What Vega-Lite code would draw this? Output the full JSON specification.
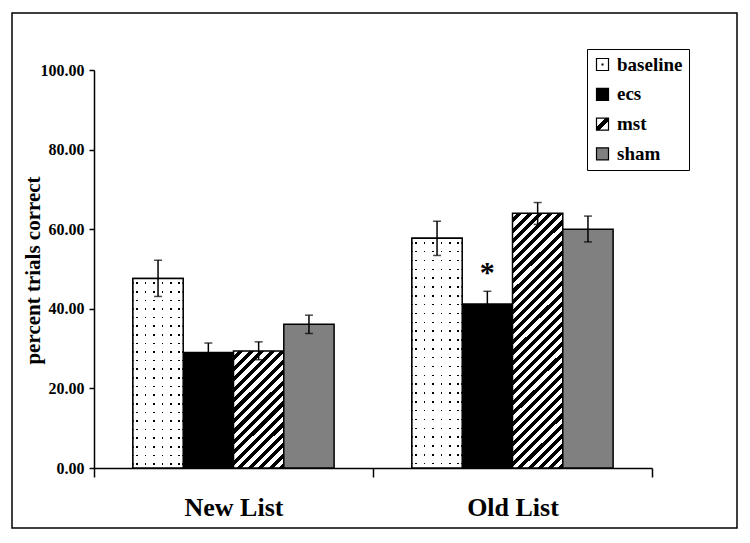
{
  "$schema": "https://vega.github.io/schema/vega-lite/v6.json",
  "width": 725,
  "height": 515,
  "autosize": {"type": "none"},
  "padding": {"left": 12, "top": 13, "right": 13, "bottom": 15},
  "background": "white",
  "config": {
    "view": {"stroke": "#000", "strokeWidth": 1.5},
    "font": "Liberation Serif",
    "axis": {
      "grid": false,
      "domainColor": "#000",
      "tickColor": "#000",
      "labelColor": "#000",
      "titleColor": "#000",
      "labelFont": "Liberation Serif",
      "titleFont": "Liberation Serif",
      "labelFontWeight": "bold",
      "titleFontWeight": "bold",
      "domainWidth": 1.5,
      "tickWidth": 1.5
    }
  },
  "data": {
    "values": [
      {"list": "New List", "cond": "baseline", "mean": 47.6, "lo": 43.1, "hi": 52.2, "sig": ""},
      {"list": "New List", "cond": "ecs", "mean": 29.0, "lo": 26.6, "hi": 31.4, "sig": ""},
      {"list": "New List", "cond": "mst", "mean": 29.4, "lo": 27.2, "hi": 31.7, "sig": ""},
      {"list": "New List", "cond": "sham", "mean": 36.1, "lo": 33.8, "hi": 38.4, "sig": ""},
      {"list": "Old List", "cond": "baseline", "mean": 57.7, "lo": 53.4, "hi": 62.0, "sig": ""},
      {"list": "Old List", "cond": "ecs", "mean": 41.2, "lo": 38.0, "hi": 44.4, "sig": "*"},
      {"list": "Old List", "cond": "mst", "mean": 64.0, "lo": 61.2, "hi": 66.7, "sig": ""},
      {"list": "Old List", "cond": "sham", "mean": 60.0, "lo": 56.8, "hi": 63.3, "sig": ""}
    ]
  },
  "encoding": {
    "x": {
      "field": "list",
      "type": "nominal",
      "scale": {"range": [82, 640], "paddingInner": 0, "paddingOuter": 0},
      "axis": {
        "title": null,
        "orient": "bottom",
        "offset": -60,
        "tickBand": "extent",
        "tickSize": 9,
        "labelFontSize": 26,
        "labelBaseline": "alphabetic",
        "labelPadding": 38,
        "labelAngle": 0
      }
    },
    "xOffset": {
      "field": "cond",
      "type": "nominal",
      "scale": {"domain": ["baseline", "ecs", "mst", "sham"], "paddingInner": 0, "paddingOuter": 0.773}
    }
  },
  "layer": [
    {
      "mark": {"type": "bar", "stroke": "#000", "strokeWidth": 1.5},
      "encoding": {
        "y": {
          "field": "mean",
          "type": "quantitative",
          "scale": {"domain": [0, 100], "range": [455, 57], "nice": false, "zero": true},
          "axis": {
            "title": "percent trials correct",
            "offset": -82,
            "values": [0, 20, 40, 60, 80, 100],
            "format": ".2f",
            "tickSize": 5,
            "labelFontSize": 16,
            "labelPadding": 5,
            "titleFontSize": 21,
            "titleX": -61,
            "titleY": 257,
            "titleAngle": 270,
            "titleAlign": "center",
            "titleBaseline": "middle"
          }
        },
        "fill": {
          "condition": [
            {"test": "datum.cond === 'baseline'", "value": {
              "gradient": "linear", "x1": 0, "y1": 0, "x2": 1, "y2": 0,
              "stops": [{"offset":0,"color":"#fff"},
{"offset":0.07,"color":"#fff"},{"offset":0.07,"color":"#000"},{"offset":0.102,"color":"#000"},{"offset":0.102,"color":"#fff"},
{"offset":0.2367,"color":"#fff"},{"offset":0.2367,"color":"#000"},{"offset":0.2687,"color":"#000"},{"offset":0.2687,"color":"#fff"},
{"offset":0.4033,"color":"#fff"},{"offset":0.4033,"color":"#000"},{"offset":0.4353,"color":"#000"},{"offset":0.4353,"color":"#fff"},
{"offset":0.57,"color":"#fff"},{"offset":0.57,"color":"#000"},{"offset":0.602,"color":"#000"},{"offset":0.602,"color":"#fff"},
{"offset":0.7367,"color":"#fff"},{"offset":0.7367,"color":"#000"},{"offset":0.7687,"color":"#000"},{"offset":0.7687,"color":"#fff"},
{"offset":0.9033,"color":"#fff"},{"offset":0.9033,"color":"#000"},{"offset":0.9353,"color":"#000"},{"offset":0.9353,"color":"#fff"},
{"offset":1,"color":"#fff"}]
            }},
            {"test": "datum.cond === 'mst' && datum.list === 'New List'", "value": {
              "gradient": "linear", "x1": 0, "y1": 0, "x2": 0.516, "y2": 1.207,
              "stops": [{"offset":0,"color":"#fff"},
{"offset":0.03125,"color":"#fff"},{"offset":0.03125,"color":"#000"},
{"offset":0.0625,"color":"#000"},{"offset":0.0625,"color":"#fff"},
{"offset":0.09375,"color":"#fff"},{"offset":0.09375,"color":"#000"},
{"offset":0.125,"color":"#000"},{"offset":0.125,"color":"#fff"},
{"offset":0.15625,"color":"#fff"},{"offset":0.15625,"color":"#000"},
{"offset":0.1875,"color":"#000"},{"offset":0.1875,"color":"#fff"},
{"offset":0.21875,"color":"#fff"},{"offset":0.21875,"color":"#000"},
{"offset":0.25,"color":"#000"},{"offset":0.25,"color":"#fff"},
{"offset":0.28125,"color":"#fff"},{"offset":0.28125,"color":"#000"},
{"offset":0.3125,"color":"#000"},{"offset":0.3125,"color":"#fff"},
{"offset":0.34375,"color":"#fff"},{"offset":0.34375,"color":"#000"},
{"offset":0.375,"color":"#000"},{"offset":0.375,"color":"#fff"},
{"offset":0.40625,"color":"#fff"},{"offset":0.40625,"color":"#000"},
{"offset":0.4375,"color":"#000"},{"offset":0.4375,"color":"#fff"},
{"offset":0.46875,"color":"#fff"},{"offset":0.46875,"color":"#000"},
{"offset":0.5,"color":"#000"},{"offset":0.5,"color":"#fff"},
{"offset":0.53125,"color":"#fff"},{"offset":0.53125,"color":"#000"},
{"offset":0.5625,"color":"#000"},{"offset":0.5625,"color":"#fff"},
{"offset":0.59375,"color":"#fff"},{"offset":0.59375,"color":"#000"},
{"offset":0.625,"color":"#000"},{"offset":0.625,"color":"#fff"},
{"offset":0.65625,"color":"#fff"},{"offset":0.65625,"color":"#000"},
{"offset":0.6875,"color":"#000"},{"offset":0.6875,"color":"#fff"},
{"offset":0.71875,"color":"#fff"},{"offset":0.71875,"color":"#000"},
{"offset":0.75,"color":"#000"},{"offset":0.75,"color":"#fff"},
{"offset":0.78125,"color":"#fff"},{"offset":0.78125,"color":"#000"},
{"offset":0.8125,"color":"#000"},{"offset":0.8125,"color":"#fff"},
{"offset":0.84375,"color":"#fff"},{"offset":0.84375,"color":"#000"},
{"offset":0.875,"color":"#000"},{"offset":0.875,"color":"#fff"},
{"offset":0.90625,"color":"#fff"},{"offset":0.90625,"color":"#000"},
{"offset":0.9375,"color":"#000"},{"offset":0.9375,"color":"#fff"},
{"offset":0.96875,"color":"#fff"},{"offset":0.96875,"color":"#000"},
{"offset":1,"color":"#000"}]
            }},
            {"test": "datum.cond === 'mst' && datum.list === 'Old List'", "value": {
              "gradient": "linear", "x1": 0, "y1": 0, "x2": 0.226, "y2": 1.152,
              "stops": [{"offset":0,"color":"#fff"},
{"offset":0.0167,"color":"#fff"},{"offset":0.0167,"color":"#000"},
{"offset":0.0333,"color":"#000"},{"offset":0.0333,"color":"#fff"},
{"offset":0.05,"color":"#fff"},{"offset":0.05,"color":"#000"},
{"offset":0.0667,"color":"#000"},{"offset":0.0667,"color":"#fff"},
{"offset":0.0833,"color":"#fff"},{"offset":0.0833,"color":"#000"},
{"offset":0.1,"color":"#000"},{"offset":0.1,"color":"#fff"},
{"offset":0.1167,"color":"#fff"},{"offset":0.1167,"color":"#000"},
{"offset":0.1333,"color":"#000"},{"offset":0.1333,"color":"#fff"},
{"offset":0.15,"color":"#fff"},{"offset":0.15,"color":"#000"},
{"offset":0.1667,"color":"#000"},{"offset":0.1667,"color":"#fff"},
{"offset":0.1833,"color":"#fff"},{"offset":0.1833,"color":"#000"},
{"offset":0.2,"color":"#000"},{"offset":0.2,"color":"#fff"},
{"offset":0.2167,"color":"#fff"},{"offset":0.2167,"color":"#000"},
{"offset":0.2333,"color":"#000"},{"offset":0.2333,"color":"#fff"},
{"offset":0.25,"color":"#fff"},{"offset":0.25,"color":"#000"},
{"offset":0.2667,"color":"#000"},{"offset":0.2667,"color":"#fff"},
{"offset":0.2833,"color":"#fff"},{"offset":0.2833,"color":"#000"},
{"offset":0.3,"color":"#000"},{"offset":0.3,"color":"#fff"},
{"offset":0.3167,"color":"#fff"},{"offset":0.3167,"color":"#000"},
{"offset":0.3333,"color":"#000"},{"offset":0.3333,"color":"#fff"},
{"offset":0.35,"color":"#fff"},{"offset":0.35,"color":"#000"},
{"offset":0.3667,"color":"#000"},{"offset":0.3667,"color":"#fff"},
{"offset":0.3833,"color":"#fff"},{"offset":0.3833,"color":"#000"},
{"offset":0.4,"color":"#000"},{"offset":0.4,"color":"#fff"},
{"offset":0.4167,"color":"#fff"},{"offset":0.4167,"color":"#000"},
{"offset":0.4333,"color":"#000"},{"offset":0.4333,"color":"#fff"},
{"offset":0.45,"color":"#fff"},{"offset":0.45,"color":"#000"},
{"offset":0.4667,"color":"#000"},{"offset":0.4667,"color":"#fff"},
{"offset":0.4833,"color":"#fff"},{"offset":0.4833,"color":"#000"},
{"offset":0.5,"color":"#000"},{"offset":0.5,"color":"#fff"},
{"offset":0.5167,"color":"#fff"},{"offset":0.5167,"color":"#000"},
{"offset":0.5333,"color":"#000"},{"offset":0.5333,"color":"#fff"},
{"offset":0.55,"color":"#fff"},{"offset":0.55,"color":"#000"},
{"offset":0.5667,"color":"#000"},{"offset":0.5667,"color":"#fff"},
{"offset":0.5833,"color":"#fff"},{"offset":0.5833,"color":"#000"},
{"offset":0.6,"color":"#000"},{"offset":0.6,"color":"#fff"},
{"offset":0.6167,"color":"#fff"},{"offset":0.6167,"color":"#000"},
{"offset":0.6333,"color":"#000"},{"offset":0.6333,"color":"#fff"},
{"offset":0.65,"color":"#fff"},{"offset":0.65,"color":"#000"},
{"offset":0.6667,"color":"#000"},{"offset":0.6667,"color":"#fff"},
{"offset":0.6833,"color":"#fff"},{"offset":0.6833,"color":"#000"},
{"offset":0.7,"color":"#000"},{"offset":0.7,"color":"#fff"},
{"offset":0.7167,"color":"#fff"},{"offset":0.7167,"color":"#000"},
{"offset":0.7333,"color":"#000"},{"offset":0.7333,"color":"#fff"},
{"offset":0.75,"color":"#fff"},{"offset":0.75,"color":"#000"},
{"offset":0.7667,"color":"#000"},{"offset":0.7667,"color":"#fff"},
{"offset":0.7833,"color":"#fff"},{"offset":0.7833,"color":"#000"},
{"offset":0.8,"color":"#000"},{"offset":0.8,"color":"#fff"},
{"offset":0.8167,"color":"#fff"},{"offset":0.8167,"color":"#000"},
{"offset":0.8333,"color":"#000"},{"offset":0.8333,"color":"#fff"},
{"offset":0.85,"color":"#fff"},{"offset":0.85,"color":"#000"},
{"offset":0.8667,"color":"#000"},{"offset":0.8667,"color":"#fff"},
{"offset":0.8833,"color":"#fff"},{"offset":0.8833,"color":"#000"},
{"offset":0.9,"color":"#000"},{"offset":0.9,"color":"#fff"},
{"offset":0.9167,"color":"#fff"},{"offset":0.9167,"color":"#000"},
{"offset":0.9333,"color":"#000"},{"offset":0.9333,"color":"#fff"},
{"offset":0.95,"color":"#fff"},{"offset":0.95,"color":"#000"},
{"offset":0.9667,"color":"#000"},{"offset":0.9667,"color":"#fff"},
{"offset":0.9833,"color":"#fff"},{"offset":0.9833,"color":"#000"},
{"offset":1,"color":"#000"}]
            }}
          ],
          "field": "cond",
          "type": "nominal",
          "scale": {
            "domain": ["baseline", "ecs", "mst", "sham"],
            "range": [
              {"expr": "{gradient:'radial',x1:0.5,y1:0.5,r1:0,x2:0.5,y2:0.5,r2:0.5,stops:[{offset:0,color:'#000'},{offset:0.13,color:'#000'},{offset:0.13,color:'#fff'},{offset:1,color:'#fff'}]}"},
              "#000000",
              {"expr": "{gradient:'linear',x1:0,y1:0,x2:1,y2:1,stops:[{offset:0,color:'#fff'},{offset:0.38,color:'#fff'},{offset:0.38,color:'#000'},{offset:0.62,color:'#000'},{offset:0.62,color:'#fff'},{offset:1,color:'#fff'}]}"},
              "#808080"
            ]
          },
          "legend": {
            "title": null,
            "orient": "none",
            "legendX": 575,
            "legendY": 36,
            "strokeColor": "#000",
            "fillColor": "#fff",
            "padding": 6,
            "symbolType": "square",
            "symbolSize": 144,
            "symbolStrokeColor": "#000",
            "symbolStrokeWidth": 1.2,
            "symbolOpacity": 1,
            "labelFont": "Liberation Serif",
            "labelFontWeight": "bold",
            "labelFontSize": 19,
            "labelColor": "#000",
            "labelOffset": 5,
            "rowPadding": 9.8
          }
        }
      }
    },
    {
      "transform": [{"filter": "datum.cond === 'baseline'"}],
      "mark": {"type": "bar", "stroke": "#000", "strokeWidth": 1.5},
      "encoding": {
        "y": {"field": "mean", "type": "quantitative"},
        "fill": {
          "condition": {"test": "datum.list === 'New List'", "value": {
            "gradient": "linear", "x1": 0, "y1": 0, "x2": 0, "y2": 1,
            "stops": [{"offset":0,"color":"#fff"},
{"offset":0.02,"color":"#fff"},{"offset":0.02,"color":"rgba(255,255,255,0)"},{"offset":0.0286,"color":"rgba(255,255,255,0)"},{"offset":0.0286,"color":"#fff"},
{"offset":0.0655,"color":"#fff"},{"offset":0.0655,"color":"rgba(255,255,255,0)"},{"offset":0.0741,"color":"rgba(255,255,255,0)"},{"offset":0.0741,"color":"#fff"},
{"offset":0.1109,"color":"#fff"},{"offset":0.1109,"color":"rgba(255,255,255,0)"},{"offset":0.1195,"color":"rgba(255,255,255,0)"},{"offset":0.1195,"color":"#fff"},
{"offset":0.1564,"color":"#fff"},{"offset":0.1564,"color":"rgba(255,255,255,0)"},{"offset":0.165,"color":"rgba(255,255,255,0)"},{"offset":0.165,"color":"#fff"},
{"offset":0.2018,"color":"#fff"},{"offset":0.2018,"color":"rgba(255,255,255,0)"},{"offset":0.2104,"color":"rgba(255,255,255,0)"},{"offset":0.2104,"color":"#fff"},
{"offset":0.2473,"color":"#fff"},{"offset":0.2473,"color":"rgba(255,255,255,0)"},{"offset":0.2559,"color":"rgba(255,255,255,0)"},{"offset":0.2559,"color":"#fff"},
{"offset":0.2927,"color":"#fff"},{"offset":0.2927,"color":"rgba(255,255,255,0)"},{"offset":0.3013,"color":"rgba(255,255,255,0)"},{"offset":0.3013,"color":"#fff"},
{"offset":0.3382,"color":"#fff"},{"offset":0.3382,"color":"rgba(255,255,255,0)"},{"offset":0.3468,"color":"rgba(255,255,255,0)"},{"offset":0.3468,"color":"#fff"},
{"offset":0.3836,"color":"#fff"},{"offset":0.3836,"color":"rgba(255,255,255,0)"},{"offset":0.3922,"color":"rgba(255,255,255,0)"},{"offset":0.3922,"color":"#fff"},
{"offset":0.4291,"color":"#fff"},{"offset":0.4291,"color":"rgba(255,255,255,0)"},{"offset":0.4377,"color":"rgba(255,255,255,0)"},{"offset":0.4377,"color":"#fff"},
{"offset":0.4745,"color":"#fff"},{"offset":0.4745,"color":"rgba(255,255,255,0)"},{"offset":0.4831,"color":"rgba(255,255,255,0)"},{"offset":0.4831,"color":"#fff"},
{"offset":0.52,"color":"#fff"},{"offset":0.52,"color":"rgba(255,255,255,0)"},{"offset":0.5286,"color":"rgba(255,255,255,0)"},{"offset":0.5286,"color":"#fff"},
{"offset":0.5655,"color":"#fff"},{"offset":0.5655,"color":"rgba(255,255,255,0)"},{"offset":0.5741,"color":"rgba(255,255,255,0)"},{"offset":0.5741,"color":"#fff"},
{"offset":0.6109,"color":"#fff"},{"offset":0.6109,"color":"rgba(255,255,255,0)"},{"offset":0.6195,"color":"rgba(255,255,255,0)"},{"offset":0.6195,"color":"#fff"},
{"offset":0.6564,"color":"#fff"},{"offset":0.6564,"color":"rgba(255,255,255,0)"},{"offset":0.665,"color":"rgba(255,255,255,0)"},{"offset":0.665,"color":"#fff"},
{"offset":0.7018,"color":"#fff"},{"offset":0.7018,"color":"rgba(255,255,255,0)"},{"offset":0.7104,"color":"rgba(255,255,255,0)"},{"offset":0.7104,"color":"#fff"},
{"offset":0.7473,"color":"#fff"},{"offset":0.7473,"color":"rgba(255,255,255,0)"},{"offset":0.7559,"color":"rgba(255,255,255,0)"},{"offset":0.7559,"color":"#fff"},
{"offset":0.7927,"color":"#fff"},{"offset":0.7927,"color":"rgba(255,255,255,0)"},{"offset":0.8013,"color":"rgba(255,255,255,0)"},{"offset":0.8013,"color":"#fff"},
{"offset":0.8382,"color":"#fff"},{"offset":0.8382,"color":"rgba(255,255,255,0)"},{"offset":0.8468,"color":"rgba(255,255,255,0)"},{"offset":0.8468,"color":"#fff"},
{"offset":0.8836,"color":"#fff"},{"offset":0.8836,"color":"rgba(255,255,255,0)"},{"offset":0.8922,"color":"rgba(255,255,255,0)"},{"offset":0.8922,"color":"#fff"},
{"offset":0.9291,"color":"#fff"},{"offset":0.9291,"color":"rgba(255,255,255,0)"},{"offset":0.9377,"color":"rgba(255,255,255,0)"},{"offset":0.9377,"color":"#fff"},
{"offset":0.9745,"color":"#fff"},{"offset":0.9745,"color":"rgba(255,255,255,0)"},{"offset":0.9831,"color":"rgba(255,255,255,0)"},{"offset":0.9831,"color":"#fff"},
{"offset":1,"color":"#fff"}]
          }},
          "value": {
            "gradient": "linear", "x1": 0, "y1": 0, "x2": 0, "y2": 1,
            "stops": [{"offset":0,"color":"#fff"},
{"offset":0.016,"color":"#fff"},{"offset":0.016,"color":"rgba(255,255,255,0)"},{"offset":0.023,"color":"rgba(255,255,255,0)"},{"offset":0.023,"color":"#fff"},
{"offset":0.0545,"color":"#fff"},{"offset":0.0545,"color":"rgba(255,255,255,0)"},{"offset":0.0615,"color":"rgba(255,255,255,0)"},{"offset":0.0615,"color":"#fff"},
{"offset":0.0929,"color":"#fff"},{"offset":0.0929,"color":"rgba(255,255,255,0)"},{"offset":0.0999,"color":"rgba(255,255,255,0)"},{"offset":0.0999,"color":"#fff"},
{"offset":0.1314,"color":"#fff"},{"offset":0.1314,"color":"rgba(255,255,255,0)"},{"offset":0.1384,"color":"rgba(255,255,255,0)"},{"offset":0.1384,"color":"#fff"},
{"offset":0.1699,"color":"#fff"},{"offset":0.1699,"color":"rgba(255,255,255,0)"},{"offset":0.1769,"color":"rgba(255,255,255,0)"},{"offset":0.1769,"color":"#fff"},
{"offset":0.2083,"color":"#fff"},{"offset":0.2083,"color":"rgba(255,255,255,0)"},{"offset":0.2153,"color":"rgba(255,255,255,0)"},{"offset":0.2153,"color":"#fff"},
{"offset":0.2468,"color":"#fff"},{"offset":0.2468,"color":"rgba(255,255,255,0)"},{"offset":0.2538,"color":"rgba(255,255,255,0)"},{"offset":0.2538,"color":"#fff"},
{"offset":0.2852,"color":"#fff"},{"offset":0.2852,"color":"rgba(255,255,255,0)"},{"offset":0.2922,"color":"rgba(255,255,255,0)"},{"offset":0.2922,"color":"#fff"},
{"offset":0.3237,"color":"#fff"},{"offset":0.3237,"color":"rgba(255,255,255,0)"},{"offset":0.3307,"color":"rgba(255,255,255,0)"},{"offset":0.3307,"color":"#fff"},
{"offset":0.3622,"color":"#fff"},{"offset":0.3622,"color":"rgba(255,255,255,0)"},{"offset":0.3692,"color":"rgba(255,255,255,0)"},{"offset":0.3692,"color":"#fff"},
{"offset":0.4006,"color":"#fff"},{"offset":0.4006,"color":"rgba(255,255,255,0)"},{"offset":0.4076,"color":"rgba(255,255,255,0)"},{"offset":0.4076,"color":"#fff"},
{"offset":0.4391,"color":"#fff"},{"offset":0.4391,"color":"rgba(255,255,255,0)"},{"offset":0.4461,"color":"rgba(255,255,255,0)"},{"offset":0.4461,"color":"#fff"},
{"offset":0.4775,"color":"#fff"},{"offset":0.4775,"color":"rgba(255,255,255,0)"},{"offset":0.4845,"color":"rgba(255,255,255,0)"},{"offset":0.4845,"color":"#fff"},
{"offset":0.516,"color":"#fff"},{"offset":0.516,"color":"rgba(255,255,255,0)"},{"offset":0.523,"color":"rgba(255,255,255,0)"},{"offset":0.523,"color":"#fff"},
{"offset":0.5545,"color":"#fff"},{"offset":0.5545,"color":"rgba(255,255,255,0)"},{"offset":0.5615,"color":"rgba(255,255,255,0)"},{"offset":0.5615,"color":"#fff"},
{"offset":0.5929,"color":"#fff"},{"offset":0.5929,"color":"rgba(255,255,255,0)"},{"offset":0.5999,"color":"rgba(255,255,255,0)"},{"offset":0.5999,"color":"#fff"},
{"offset":0.6314,"color":"#fff"},{"offset":0.6314,"color":"rgba(255,255,255,0)"},{"offset":0.6384,"color":"rgba(255,255,255,0)"},{"offset":0.6384,"color":"#fff"},
{"offset":0.6699,"color":"#fff"},{"offset":0.6699,"color":"rgba(255,255,255,0)"},{"offset":0.6769,"color":"rgba(255,255,255,0)"},{"offset":0.6769,"color":"#fff"},
{"offset":0.7083,"color":"#fff"},{"offset":0.7083,"color":"rgba(255,255,255,0)"},{"offset":0.7153,"color":"rgba(255,255,255,0)"},{"offset":0.7153,"color":"#fff"},
{"offset":0.7468,"color":"#fff"},{"offset":0.7468,"color":"rgba(255,255,255,0)"},{"offset":0.7538,"color":"rgba(255,255,255,0)"},{"offset":0.7538,"color":"#fff"},
{"offset":0.7852,"color":"#fff"},{"offset":0.7852,"color":"rgba(255,255,255,0)"},{"offset":0.7922,"color":"rgba(255,255,255,0)"},{"offset":0.7922,"color":"#fff"},
{"offset":0.8237,"color":"#fff"},{"offset":0.8237,"color":"rgba(255,255,255,0)"},{"offset":0.8307,"color":"rgba(255,255,255,0)"},{"offset":0.8307,"color":"#fff"},
{"offset":0.8622,"color":"#fff"},{"offset":0.8622,"color":"rgba(255,255,255,0)"},{"offset":0.8692,"color":"rgba(255,255,255,0)"},{"offset":0.8692,"color":"#fff"},
{"offset":0.9006,"color":"#fff"},{"offset":0.9006,"color":"rgba(255,255,255,0)"},{"offset":0.9076,"color":"rgba(255,255,255,0)"},{"offset":0.9076,"color":"#fff"},
{"offset":0.9391,"color":"#fff"},{"offset":0.9391,"color":"rgba(255,255,255,0)"},{"offset":0.9461,"color":"rgba(255,255,255,0)"},{"offset":0.9461,"color":"#fff"},
{"offset":0.9775,"color":"#fff"},{"offset":0.9775,"color":"rgba(255,255,255,0)"},{"offset":0.9845,"color":"rgba(255,255,255,0)"},{"offset":0.9845,"color":"#fff"},
{"offset":1,"color":"#fff"}]
          }
        }
      }
    },
    {
      "mark": {"type": "rule", "color": "#000", "strokeWidth": 1.5},
      "encoding": {
        "y": {"field": "lo", "type": "quantitative"},
        "y2": {"field": "hi"}
      }
    },
    {
      "mark": {"type": "tick", "color": "#000", "size": 8, "thickness": 1.5},
      "encoding": {
        "y": {"field": "lo", "type": "quantitative"}
      }
    },
    {
      "mark": {"type": "tick", "color": "#000", "size": 8, "thickness": 1.5},
      "encoding": {
        "y": {"field": "hi", "type": "quantitative"}
      }
    },
    {
      "transform": [{"filter": "datum.sig != ''"}],
      "mark": {"type": "text", "font": "Liberation Serif", "fontWeight": "bold", "fontSize": 30, "baseline": "alphabetic", "dy": -9, "color": "#000"},
      "encoding": {
        "y": {"field": "hi", "type": "quantitative"},
        "text": {"field": "sig"}
      }
    }
  ]
}
